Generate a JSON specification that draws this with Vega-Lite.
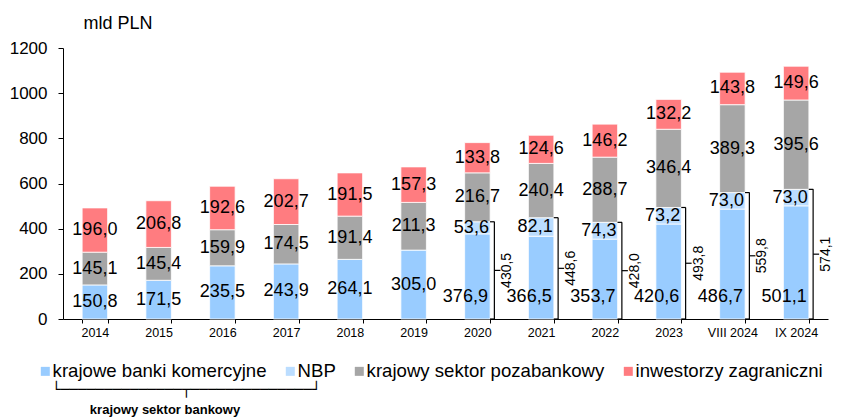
{
  "$schema": "https://vega.github.io/schema/vega-lite/v6.json",
  "autosize": {"type": "none"},
  "width": 765,
  "height": 271,
  "padding": {"left": 63, "top": 48, "right": 32, "bottom": 98},
  "background": "white",
  "config": {
    "view": {"stroke": null},
    "locale": {"number": {"decimal": ",", "thousands": "\u00a0", "grouping": [3], "currency": ["", " zł"]}},
    "font": "Liberation Sans"
  },
  "title": {
    "text": "└──────────────┬──────────────┘",
    "orient": "bottom",
    "anchor": "start",
    "frame": "group",
    "font": "DejaVu Sans Mono",
    "fontSize": 14.4,
    "fontWeight": "normal",
    "color": "#000000",
    "baseline": "top",
    "dx": -11,
    "offset": -33
  },
  "datasets": {
    "segments": [
      {"cat": "2014", "series": "krajowe banki komercyjne", "value": 150.8},
      {"cat": "2015", "series": "krajowe banki komercyjne", "value": 171.5},
      {"cat": "2016", "series": "krajowe banki komercyjne", "value": 235.5},
      {"cat": "2017", "series": "krajowe banki komercyjne", "value": 243.9},
      {"cat": "2018", "series": "krajowe banki komercyjne", "value": 264.1},
      {"cat": "2019", "series": "krajowe banki komercyjne", "value": 305.0},
      {"cat": "2020", "series": "krajowe banki komercyjne", "value": 376.9},
      {"cat": "2021", "series": "krajowe banki komercyjne", "value": 366.5},
      {"cat": "2022", "series": "krajowe banki komercyjne", "value": 353.7},
      {"cat": "2023", "series": "krajowe banki komercyjne", "value": 420.6},
      {"cat": "VIII 2024", "series": "krajowe banki komercyjne", "value": 486.7},
      {"cat": "IX 2024", "series": "krajowe banki komercyjne", "value": 501.1},
      {"cat": "2020", "series": "NBP", "value": 53.6},
      {"cat": "2021", "series": "NBP", "value": 82.1},
      {"cat": "2022", "series": "NBP", "value": 74.3},
      {"cat": "2023", "series": "NBP", "value": 73.2},
      {"cat": "VIII 2024", "series": "NBP", "value": 73.0},
      {"cat": "IX 2024", "series": "NBP", "value": 73.0},
      {"cat": "2014", "series": "krajowy sektor pozabankowy", "value": 145.1},
      {"cat": "2015", "series": "krajowy sektor pozabankowy", "value": 145.4},
      {"cat": "2016", "series": "krajowy sektor pozabankowy", "value": 159.9},
      {"cat": "2017", "series": "krajowy sektor pozabankowy", "value": 174.5},
      {"cat": "2018", "series": "krajowy sektor pozabankowy", "value": 191.4},
      {"cat": "2019", "series": "krajowy sektor pozabankowy", "value": 211.3},
      {"cat": "2020", "series": "krajowy sektor pozabankowy", "value": 216.7},
      {"cat": "2021", "series": "krajowy sektor pozabankowy", "value": 240.4},
      {"cat": "2022", "series": "krajowy sektor pozabankowy", "value": 288.7},
      {"cat": "2023", "series": "krajowy sektor pozabankowy", "value": 346.4},
      {"cat": "VIII 2024", "series": "krajowy sektor pozabankowy", "value": 389.3},
      {"cat": "IX 2024", "series": "krajowy sektor pozabankowy", "value": 395.6},
      {"cat": "2014", "series": "inwestorzy zagraniczni", "value": 196.0},
      {"cat": "2015", "series": "inwestorzy zagraniczni", "value": 206.8},
      {"cat": "2016", "series": "inwestorzy zagraniczni", "value": 192.6},
      {"cat": "2017", "series": "inwestorzy zagraniczni", "value": 202.7},
      {"cat": "2018", "series": "inwestorzy zagraniczni", "value": 191.5},
      {"cat": "2019", "series": "inwestorzy zagraniczni", "value": 157.3},
      {"cat": "2020", "series": "inwestorzy zagraniczni", "value": 133.8},
      {"cat": "2021", "series": "inwestorzy zagraniczni", "value": 124.6},
      {"cat": "2022", "series": "inwestorzy zagraniczni", "value": 146.2},
      {"cat": "2023", "series": "inwestorzy zagraniczni", "value": 132.2},
      {"cat": "VIII 2024", "series": "inwestorzy zagraniczni", "value": 143.8},
      {"cat": "IX 2024", "series": "inwestorzy zagraniczni", "value": 149.6}
    ],
    "brackets": [
      {"cat": "2020", "total": 430.5},
      {"cat": "2021", "total": 448.6},
      {"cat": "2022", "total": 428.0},
      {"cat": "2023", "total": 493.8},
      {"cat": "VIII 2024", "total": 559.8},
      {"cat": "IX 2024", "total": 574.1}
    ]
  },
  "encoding": {
    "x": {
      "field": "cat",
      "type": "nominal",
      "scale": {
        "domain": ["2014", "2015", "2016", "2017", "2018", "2019", "2020", "2021", "2022", "2023", "VIII 2024", "IX 2024"],
        "paddingInner": 0.6,
        "paddingOuter": 0.3
      },
      "axis": {
        "labelAngle": 0,
        "labelFont": "Liberation Sans",
        "labelFontSize": 12.5,
        "labelColor": "#000000",
        "labelPadding": 3,
        "tickBand": "extent",
        "tickSize": 4,
        "tickColor": "#000000",
        "domainColor": "#000000",
        "title": "krajowy sektor bankowy",
        "titleFont": "Liberation Sans",
        "titleFontWeight": "bold",
        "titleFontSize": 13,
        "titleColor": "#000000",
        "titleX": 101.5,
        "titleY": 90,
        "titleAlign": "center",
        "titleBaseline": "middle",
        "titleAngle": 0
      }
    }
  },
  "layer": [
    {
      "data": {"name": "segments"},
      "transform": [
        {"calculate": "indexof(['krajowe banki komercyjne','NBP','krajowy sektor pozabankowy','inwestorzy zagraniczni'], datum.series)", "as": "ord"}
      ],
      "mark": {"type": "bar", "stroke": "#ffffff", "strokeWidth": 0.8},
      "encoding": {
        "y": {
          "field": "value",
          "type": "quantitative",
          "stack": "zero",
          "scale": {"domain": [0, 1200], "nice": false},
          "axis": {
            "values": [0, 200, 400, 600, 800, 1000, 1200],
            "format": "d",
            "grid": false,
            "labelFont": "Liberation Sans",
            "labelFontSize": 17,
            "labelColor": "#000000",
            "labelPadding": 11,
            "tickSize": 5,
            "tickColor": "#000000",
            "domainColor": "#000000",
            "title": "mld PLN",
            "titleAngle": 0,
            "titleAlign": "left",
            "titleBaseline": "alphabetic",
            "titleX": 20,
            "titleY": -20,
            "titleFont": "Liberation Sans",
            "titleFontSize": 18,
            "titleFontWeight": "normal",
            "titleColor": "#000000"
          }
        },
        "color": {
          "field": "series",
          "type": "nominal",
          "scale": {
            "domain": ["krajowe banki komercyjne", "NBP", "krajowy sektor pozabankowy", "inwestorzy zagraniczni"],
            "range": ["#99CCFF", "#BBDDFF", "#A6A6A6", "#FF7C80"]
          },
          "legend": {
            "orient": "none",
            "legendX": -27,
            "legendY": 314,
            "direction": "horizontal",
            "title": null,
            "symbolType": "square",
            "symbolSize": 81,
            "symbolStrokeWidth": 0,
            "symbolOpacity": 1,
            "labelFont": "Liberation Sans",
            "labelFontSize": 18.6,
            "labelColor": "#000000",
            "labelOffset": -2,
            "labelLimit": 400,
            "columnPadding": 14,
            "padding": 0
          }
        },
        "order": {"field": "ord", "type": "quantitative"}
      }
    },
    {
      "data": {"name": "segments"},
      "transform": [
        {"calculate": "indexof(['krajowe banki komercyjne','NBP','krajowy sektor pozabankowy','inwestorzy zagraniczni'], datum.series)", "as": "ord"},
        {"stack": "value", "groupby": ["cat"], "sort": [{"field": "ord", "order": "ascending"}], "as": ["v0", "v1"]},
        {"calculate": "(datum.v0 + datum.v1) / 2", "as": "mid"},
        {"filter": "datum.series == 'krajowy sektor pozabankowy' || datum.series == 'inwestorzy zagraniczni' || (datum.series == 'krajowe banki komercyjne' && indexof(['2014','2015','2016','2017','2018','2019'], datum.cat) >= 0)"}
      ],
      "mark": {"type": "text", "font": "Liberation Sans", "fontSize": 18, "color": "#000000", "baseline": "middle", "align": "center"},
      "encoding": {
        "y": {"field": "mid", "type": "quantitative"},
        "text": {"field": "value", "type": "quantitative", "format": ".1f"}
      }
    },
    {
      "data": {"name": "segments"},
      "transform": [
        {"calculate": "indexof(['krajowe banki komercyjne','NBP','krajowy sektor pozabankowy','inwestorzy zagraniczni'], datum.series)", "as": "ord"},
        {"stack": "value", "groupby": ["cat"], "sort": [{"field": "ord", "order": "ascending"}], "as": ["v0", "v1"]},
        {"calculate": "(datum.v0 + datum.v1) / 2", "as": "mid"},
        {"filter": "datum.series == 'NBP'"}
      ],
      "mark": {"type": "text", "font": "Liberation Sans", "fontSize": 18, "color": "#000000", "baseline": "middle", "align": "center", "xOffset": -6},
      "encoding": {
        "y": {"field": "mid", "type": "quantitative"},
        "text": {"field": "value", "type": "quantitative", "format": ".1f"}
      }
    },
    {
      "data": {"name": "segments"},
      "transform": [
        {"filter": "datum.series == 'krajowe banki komercyjne' && indexof(['2020','2021','2022','2023','VIII 2024','IX 2024'], datum.cat) >= 0"}
      ],
      "mark": {"type": "text", "font": "Liberation Sans", "fontSize": 18, "color": "#000000", "baseline": "middle", "align": "center", "xOffset": -12, "yOffset": -22},
      "encoding": {
        "y": {"datum": 0, "type": "quantitative"},
        "text": {"field": "value", "type": "quantitative", "format": ".1f"}
      }
    },
    {
      "data": {"name": "brackets"},
      "mark": {"type": "rule", "xOffset": 17, "strokeWidth": 1.2, "color": "#000000"},
      "encoding": {
        "y": {"field": "total", "type": "quantitative"},
        "y2": {"datum": 0}
      }
    },
    {
      "data": {"name": "brackets"},
      "mark": {"type": "tick", "orient": "horizontal", "size": 4.5, "thickness": 1.2, "xOffset": 14.9, "color": "#000000", "opacity": 1},
      "encoding": {
        "y": {"field": "total", "type": "quantitative"}
      }
    },
    {
      "data": {"name": "brackets"},
      "mark": {"type": "tick", "orient": "horizontal", "size": 4.5, "thickness": 1.2, "xOffset": 14.9, "color": "#000000", "opacity": 1},
      "encoding": {
        "y": {"datum": 0, "type": "quantitative"}
      }
    },
    {
      "data": {"name": "brackets"},
      "transform": [{"calculate": "datum.total / 2", "as": "mid"}],
      "mark": {"type": "tick", "orient": "horizontal", "size": 6, "thickness": 1.2, "xOffset": 20, "color": "#000000", "opacity": 1},
      "encoding": {
        "y": {"field": "mid", "type": "quantitative"}
      }
    },
    {
      "data": {"name": "brackets"},
      "transform": [{"calculate": "datum.total / 2", "as": "mid"}],
      "mark": {"type": "text", "angle": 270, "font": "Liberation Sans", "fontSize": 14, "color": "#000000", "baseline": "middle", "align": "center", "xOffset": 30},
      "encoding": {
        "y": {"field": "mid", "type": "quantitative"},
        "text": {"field": "total", "type": "quantitative", "format": ".1f"}
      }
    }
  ]
}
